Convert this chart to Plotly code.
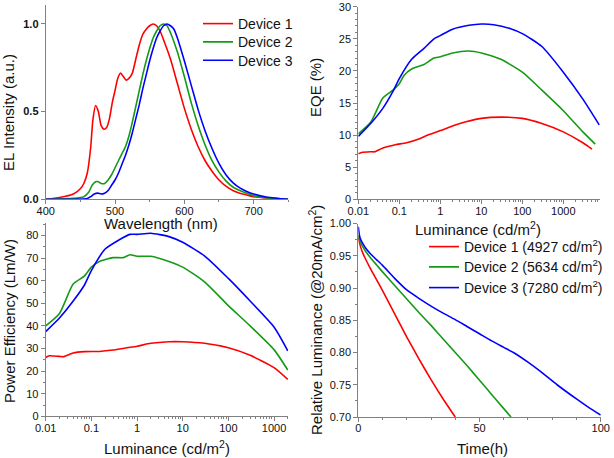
import plotly.graph_objects as go

# ---------------- data ----------------
devices = ["Device 1", "Device 2", "Device 3"]
colors = ["#ff0000", "#159a15", "#0000ff"]

# EL spectra
wl1 = [400, 420, 440, 450, 455, 460, 465, 468, 472, 476, 480, 484, 488, 492, 496, 500, 504, 508, 512, 516, 520, 525, 530, 535, 540, 545, 550, 555, 560, 565, 570, 580, 590, 600, 610, 620, 630, 640, 650, 660, 670, 680, 690, 700, 720, 750]
el1 = [0, 0.01, 0.03, 0.06, 0.09, 0.15, 0.30, 0.45, 0.535, 0.50, 0.42, 0.40, 0.41, 0.46, 0.55, 0.62, 0.69, 0.72, 0.70, 0.68, 0.69, 0.72, 0.80, 0.88, 0.94, 0.97, 0.99, 1.0, 0.99, 0.96, 0.91, 0.80, 0.66, 0.52, 0.40, 0.30, 0.22, 0.16, 0.11, 0.075, 0.05, 0.035, 0.025, 0.015, 0.007, 0]
wl2 = [400, 440, 455, 462, 467, 472, 476, 480, 485, 490, 495, 500, 505, 510, 515, 520, 525, 530, 535, 540, 545, 550, 555, 560, 565, 570, 575, 580, 590, 600, 610, 620, 630, 640, 650, 660, 670, 680, 690, 700, 720, 750]
el2 = [0, 0.005, 0.015, 0.04, 0.08, 0.10, 0.10, 0.09, 0.09, 0.11, 0.14, 0.18, 0.22, 0.26, 0.30, 0.36, 0.44, 0.53, 0.62, 0.71, 0.79, 0.86, 0.92, 0.96, 0.99, 1.0, 0.99, 0.95, 0.84, 0.70, 0.55, 0.42, 0.31, 0.22, 0.155, 0.105, 0.07, 0.05, 0.035, 0.02, 0.008, 0]
wl3 = [400, 460, 465, 470, 475, 480, 485, 490, 495, 500, 505, 510, 515, 520, 525, 530, 535, 540, 545, 550, 555, 560, 565, 570, 575, 580, 585, 590, 600, 610, 620, 630, 640, 650, 660, 670, 680, 690, 700, 720, 750]
el3 = [0, 0.005, 0.015, 0.03, 0.035, 0.03, 0.035, 0.05, 0.08, 0.11, 0.15, 0.20, 0.25, 0.31, 0.38, 0.46, 0.54, 0.63, 0.71, 0.79, 0.86, 0.92, 0.96, 0.99, 1.0, 0.99, 0.97, 0.92, 0.79, 0.65, 0.51, 0.39, 0.29, 0.205, 0.14, 0.095, 0.065, 0.045, 0.03, 0.012, 0]

# EQE vs luminance
lum_eqe1 = [0.01, 0.012, 0.02, 0.025, 0.04, 0.08, 0.15, 0.3, 0.5, 1, 3, 10, 30, 100, 300, 1000, 3000, 5000]
eqe1 = [7.1, 7.3, 7.4, 7.4, 8.0, 8.5, 8.8, 9.4, 10.0, 10.7, 11.8, 12.6, 12.8, 12.6, 11.8, 10.5, 8.8, 7.8]
lum_eqe2 = [0.01, 0.02, 0.04, 0.07, 0.1, 0.13, 0.2, 0.4, 0.7, 1, 2, 5, 10, 30, 100, 300, 1000, 3000, 6000]
eqe2 = [10.2, 12.0, 15.8, 17.0, 18.0, 19.3, 20.3, 21.0, 22.0, 22.2, 22.8, 23.1, 22.8, 21.8, 19.8, 17.0, 13.8, 10.5, 8.6]
lum_eqe3 = [0.01, 0.02, 0.04, 0.07, 0.1, 0.2, 0.4, 0.7, 1, 2, 5, 10, 20, 50, 100, 300, 1000, 3000, 7500]
eqe3 = [9.8, 11.8, 14.2, 16.8, 18.8, 21.8, 23.5, 25.0, 25.5, 26.5, 27.1, 27.3, 27.2, 26.6, 25.8, 23.8, 19.8, 15.6, 11.6]

# Power efficiency vs luminance
lum_pe1 = [0.01, 0.012, 0.02, 0.025, 0.04, 0.07, 0.15, 0.3, 0.6, 1, 2, 5, 10, 30, 100, 300, 1000, 2000]
pe1 = [26.0, 26.8, 26.5, 26.4, 28.0, 28.6, 28.7, 29.3, 30.3, 31.0, 32.3, 33.0, 33.0, 32.3, 30.3, 27.0, 21.5, 16.3]
lum_pe2 = [0.01, 0.02, 0.04, 0.07, 0.1, 0.15, 0.3, 0.5, 0.7, 1, 2, 5, 10, 30, 100, 300, 1000, 2000]
pe2 = [40.0, 45.5, 58.5, 62.0, 66.0, 68.5, 70.2, 70.2, 71.5, 70.8, 70.8, 68.5, 66.0, 59.5, 49.0, 40.0, 29.5, 20.5]
lum_pe3 = [0.01, 0.02, 0.04, 0.07, 0.1, 0.2, 0.4, 0.7, 1, 2, 5, 10, 30, 100, 300, 1000, 2000]
pe3 = [37.5, 43.5, 51.0, 58.0, 64.5, 74.0, 78.0, 80.5, 80.5, 81.0, 79.5, 77.0, 71.0, 61.0, 51.0, 39.5, 29.0]

# Lifetime
life_labels = ["Device 1 (4927 cd/m<sup>2</sup>)", "Device 2 (5634 cd/m<sup>2</sup>)", "Device 3 (7280 cd/m<sup>2</sup>)"]
t1 = [0, 0.5, 1, 2, 3, 5, 7.5, 10, 15, 20, 25, 30, 35, 40]
rl1 = [0.978, 0.970, 0.963, 0.953, 0.945, 0.930, 0.913, 0.896, 0.860, 0.824, 0.790, 0.758, 0.728, 0.70]
t2 = [0, 0.5, 1, 2, 3, 5, 7.5, 10, 15, 20, 25, 30, 35, 40, 45, 50, 55, 60, 63]
rl2 = [0.982, 0.975, 0.970, 0.963, 0.957, 0.947, 0.936, 0.925, 0.904, 0.883, 0.862, 0.842, 0.821, 0.800, 0.779, 0.757, 0.735, 0.713, 0.70]
t3 = [0, 0.5, 1, 2, 3, 5, 7.5, 10, 15, 20, 25, 30, 35, 40, 45, 50, 55, 60, 64, 70, 75, 82, 90, 95, 100]
rl3 = [0.995, 0.981, 0.975, 0.968, 0.962, 0.953, 0.944, 0.935, 0.915, 0.897, 0.884, 0.872, 0.861, 0.851, 0.840, 0.829, 0.818, 0.808, 0.800, 0.785, 0.771, 0.750, 0.728, 0.715, 0.703]

log_vals = [0.01, 0.1, 1, 10, 100, 1000]
log_text = ["0.01", "0.1", "1", "10", "100", "1000"]

# ---------------- figure ----------------
W, H = 614, 458
def dx(a, b):
    return [a / W, b / W]
def dy(top, bottom):
    return [1 - bottom / H, 1 - top / H]
def px(x):
    return x / W
def py(y):
    return 1 - y / H

fig = go.Figure()
lw = 1.6
lfont = dict(family="Liberation Sans, Arial", size=14, color="#111")

leg_names_a = ["legend", "legend2", "legend3"]
leg_names_b = ["legend4", "legend5", "legend6"]
leg_y_a = [24, 42.3, 60.7]
leg_y_b = [247, 267.3, 288]

for wl, el, name, c, lg in zip([wl1, wl2, wl3], [el1, el2, el3], devices, colors, leg_names_a):
    fig.add_trace(go.Scatter(x=wl, y=el, name=name, mode="lines", line=dict(color=c, width=lw, shape="spline", smoothing=0.6),
                             xaxis="x", yaxis="y", legend=lg))
for lx, ly, c in zip([lum_eqe1, lum_eqe2, lum_eqe3], [eqe1, eqe2, eqe3], colors):
    fig.add_trace(go.Scatter(x=lx, y=ly, mode="lines", showlegend=False, line=dict(color=c, width=lw, shape="spline", smoothing=0.6),
                             xaxis="x2", yaxis="y2"))
for lx, ly, c in zip([lum_pe1, lum_pe2, lum_pe3], [pe1, pe2, pe3], colors):
    fig.add_trace(go.Scatter(x=lx, y=ly, mode="lines", showlegend=False, line=dict(color=c, width=lw, shape="spline", smoothing=0.6),
                             xaxis="x3", yaxis="y3"))
for tx, ty, name, c, lg in zip([t1, t2, t3], [rl1, rl2, rl3], life_labels, colors, leg_names_b):
    fig.add_trace(go.Scatter(x=tx, y=ty, name=name, mode="lines", line=dict(color=c, width=lw, shape="spline", smoothing=0.5),
                             xaxis="x4", yaxis="y4", legend=lg))

axcol = "#808080"
tickfont = dict(family="Liberation Sans, Arial", size=11, color="#111")
titlefont = dict(family="Liberation Sans, Arial", size=15, color="#111")
common = dict(showline=True, linecolor=axcol, linewidth=1, ticks="outside", ticklen=4, tickwidth=1, tickcolor=axcol,
              showgrid=False, zeroline=False, tickfont=tickfont, mirror=False, automargin=False)
xcommon = dict(common, ticklabelstandoff=-3)
def minor(d):
    return dict(ticks="outside", ticklen=2, tickwidth=1, tickcolor=axcol, dtick=d, showgrid=False)

layout = dict(
    width=W, height=H, margin=dict(l=0, r=0, t=0, b=0, autoexpand=False),
    paper_bgcolor="white", plot_bgcolor="white",
    font=dict(family="Liberation Sans, Arial", color="#111"),
    xaxis=dict(domain=dx(45.7, 288.3), range=[400, 750], tick0=400, dtick=100, minor=minor(50), anchor="y", **xcommon),
    yaxis=dict(domain=dy(4.7, 199.3), range=[0, 1.11], tickvals=[0, 0.5, 1.0],
               ticktext=["<b>0.0</b>", "<b>0.5</b>", "<b>1.0</b>"], anchor="x", **common),
    xaxis2=dict(domain=dx(358.3, 600), type="log", range=[-2, 3.895], tickvals=log_vals, ticktext=log_text,
                minor=dict(ticks="outside", ticklen=2, tickwidth=1, tickcolor=axcol, dtick="D1", showgrid=False),
                anchor="y2", **xcommon),
    yaxis2=dict(domain=dy(6.7, 199.3), range=[0, 30], dtick=5, minor=minor(1), anchor="x2", **common),
    xaxis3=dict(domain=dx(45.7, 288.3), type="log", range=[-2, 3.313], tickvals=log_vals, ticktext=log_text,
                minor=dict(ticks="outside", ticklen=2, tickwidth=1, tickcolor=axcol, dtick="D1", showgrid=False),
                anchor="y3", **xcommon),
    yaxis3=dict(domain=dy(223.3, 416.3), range=[0, 85.4], dtick=10, minor=minor(5), anchor="x3", **common),
    xaxis4=dict(domain=dx(358.3, 600.7), range=[0, 100], dtick=50, minor=minor(10), anchor="y4", **xcommon),
    yaxis4=dict(domain=dy(223.5, 417), range=[0.7, 1.0], dtick=0.05, tickformat=".2f", minor=minor(0.025),
                anchor="x4", **common),
)
for lg, yy in zip(leg_names_a, leg_y_a):
    layout[lg] = dict(x=px(198), y=py(yy), xanchor="left", yanchor="middle", bgcolor="rgba(0,0,0,0)",
                      font=lfont, itemwidth=30, borderwidth=0)
for lg, yy in zip(leg_names_b, leg_y_b):
    layout[lg] = dict(x=px(424), y=py(yy), xanchor="left", yanchor="middle", bgcolor="rgba(0,0,0,0)",
                      font=lfont, itemwidth=30, borderwidth=0)
fig.update_layout(**layout)

# axis titles
titles = [
    ("Wavelength (nm)", 161, 223, 0),
    ("EL Intensity (a.u.)", 9, 113, -90),
    ("Luminance (cd/m<sup>2</sup>)", 478, 228, 0),
    ("EQE (%)", 315, 88, -90),
    ("Power Efficiency (Lm/W)", 9, 321, -90),
    ("Luminance (cd/m<sup>2</sup>)", 167, 447, 0),
    ("Relative Luminance (@20mA/cm<sup>2</sup>)", 315, 320, -90),
    ("Time(h)", 482, 448, 0),
]
for txt, x, y, ang in titles:
    fig.add_annotation(text=txt, x=px(x), y=py(y), xref="paper", yref="paper", xanchor="center", yanchor="middle",
                       showarrow=False, textangle=ang, font=titlefont)

fig.write_html("out.html", config={"displayModeBar": False},
               post_script="document.body.style.margin='0px';document.body.style.padding='0px';")
